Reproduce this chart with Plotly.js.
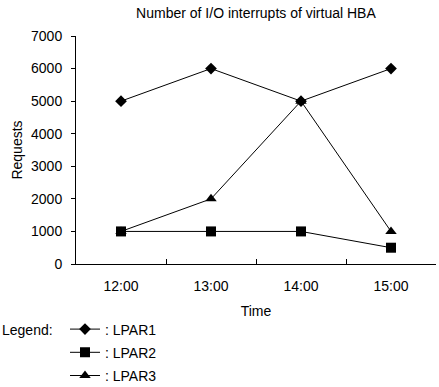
<!DOCTYPE html>
<html>
<head>
<meta charset="utf-8">
<script src="https://cdn.plot.ly/plotly-3.0.1.min.js"></script>
<style>html,body{margin:0;padding:0;background:#fff;}#chart{width:439px;height:387px;}</style>
</head>
<body>
<div id="chart"></div>
<script>
const times = ["12:00", "13:00", "14:00", "15:00"];
const lpar1 = [5000, 6000, 5000, 6000];
const lpar2 = [1000, 1000, 1000, 500];
const lpar3 = [1000, 2000, 5000, 1000];
const seriesNames = [": LPAR1", ": LPAR2", ": LPAR3"];
const yTicks = [0, 1000, 2000, 3000, 4000, 5000, 6000, 7000];

const font = "Liberation Sans, Arial, sans-serif";
const mk = (y, name, symbol, size, g) => ({
  x: times, y: y, name: name, type: "scatter", mode: "lines+markers",
  line: {color: "#000", width: 1},
  marker: {symbol: symbol, size: size, color: "#000"},
  legendgroup: g, cliponaxis: false
});
const data = [
  mk(lpar1, seriesNames[0], "diamond", 9, "a"),
  mk(lpar2, seriesNames[1], "square", 10, "b"),
  mk(lpar3, seriesNames[2], "triangle-up", 10, "c")
];
const layout = {
  width: 439, height: 387,
  margin: {l: 76, r: 3, t: 36, b: 123, autoexpand: false},
  paper_bgcolor: "#fff", plot_bgcolor: "#fff",
  font: {family: font, size: 14, color: "#000"},
  title: {text: "Number of I/O interrupts of virtual HBA", font: {size: 14}, x: 0.583, xanchor: "center", y: 0.965, yanchor: "middle"},
  xaxis: {
    type: "category", range: [-0.5, 3.5], showline: true, linecolor: "#000", linewidth: 1,
    ticks: "inside", tickson: "boundaries", ticklen: 5, tickcolor: "#000", ticklabelstandoff: 9,
    showgrid: false, zeroline: false, tickfont: {size: 14},
    title: {text: "Time", font: {size: 14}, standoff: 13}
  },
  yaxis: {
    range: [0, 7000], tickvals: yTicks, showline: true, linecolor: "#000", linewidth: 1,
    ticks: "outside", ticklen: 4, tickcolor: "#000", ticklabelstandoff: 6,
    showgrid: false, zeroline: false, tickfont: {size: 14},
    title: {text: "Requests", font: {size: 14}, standoff: 5}
  },
  showlegend: true,
  legend: {
    xref: "paper", yref: "paper", x: -11/360, y: -(313.5-264)/228, xanchor: "left", yanchor: "top",
    traceorder: "grouped", tracegroupgap: 2, font: {size: 14}, bgcolor: "rgba(0,0,0,0)"
  },
  annotations: [{
    text: "Legend:", xref: "paper", yref: "paper", x: -76/360, xanchor: "left",
    y: -(329.5-264)/228, yanchor: "middle", showarrow: false, font: {size: 14}
  }]
};
Plotly.newPlot("chart", data, layout, {displayModeBar: false, staticPlot: true});
</script>
</body>
</html>
